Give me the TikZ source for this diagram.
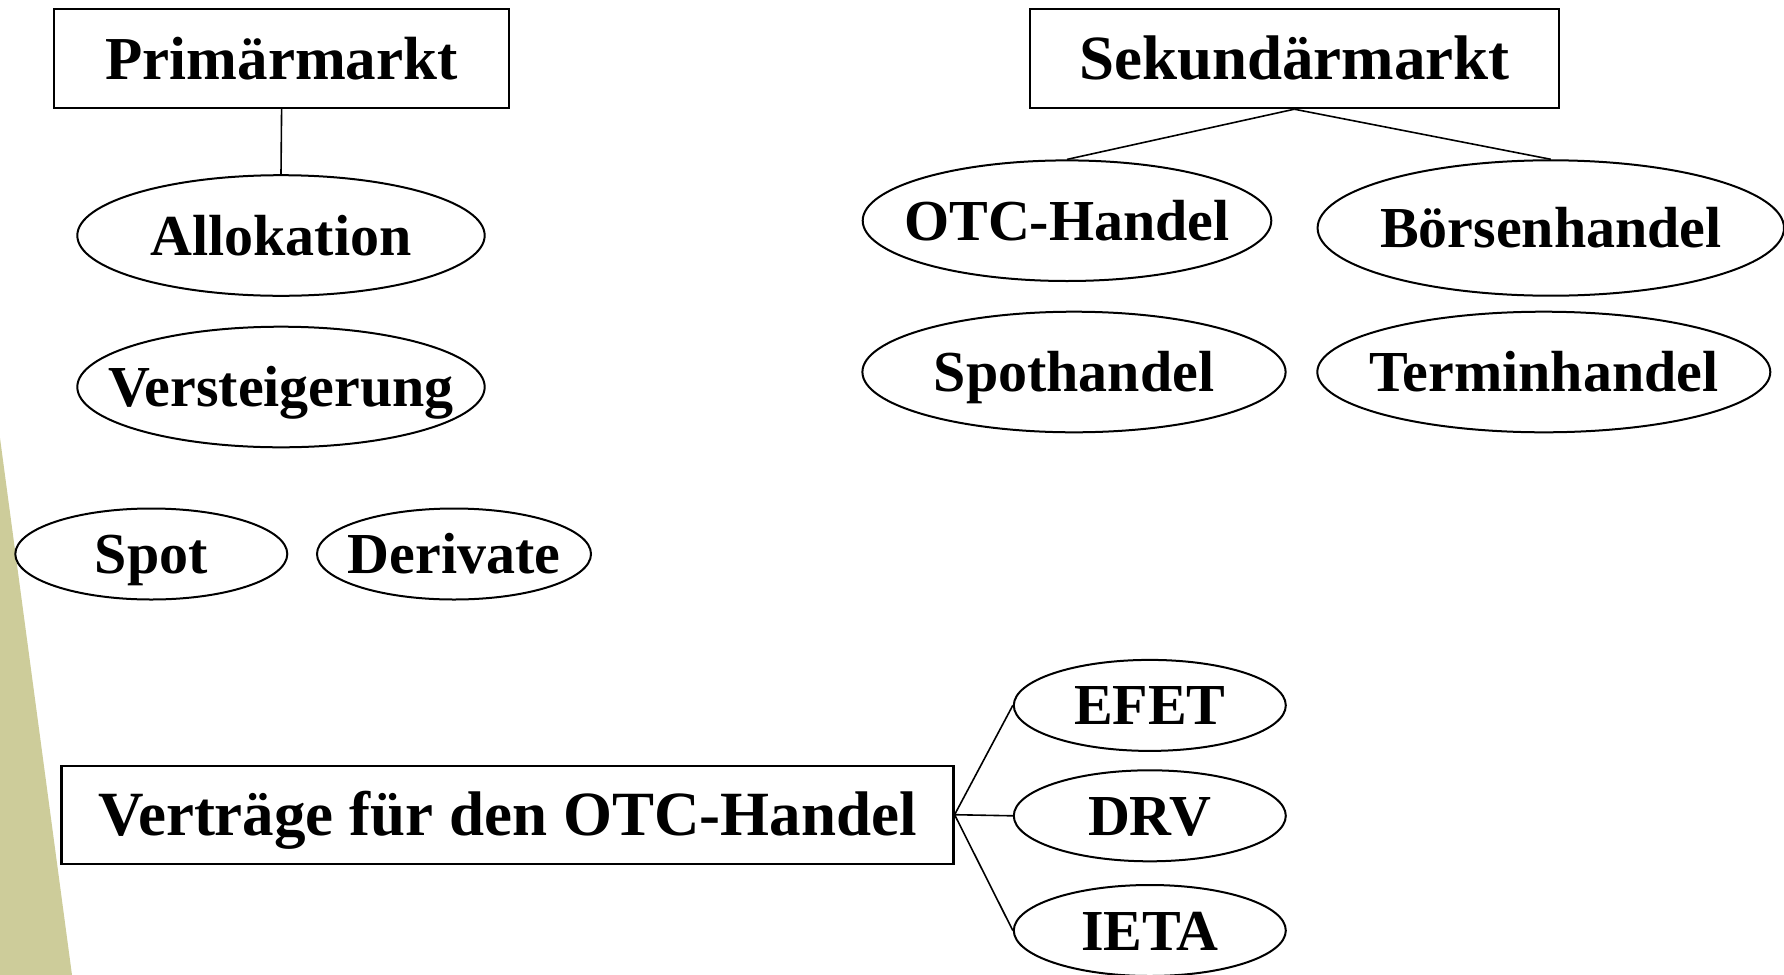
\documentclass[tikz,border=0pt]{standalone}
\usepackage{fontspec}
\setmainfont{Liberation Serif}
\usepackage{tikz}
\usetikzlibrary{shapes.geometric}
\definecolor{sidebar}{RGB}{205,204,154}

\begin{document}
\begin{tikzpicture}[
  x=0.5pt, y=-0.5pt,
  every node/.style={font=\fontsize{29}{34}\selectfont\bfseries, text height=19.5pt, text depth=0pt},
  market/.style={rectangle,draw,line width=1.1pt,inner sep=0pt,minimum height=49.5pt,
    font=\fontsize{30.5}{36}\selectfont\bfseries, text height=20.5pt},
  oval/.style={ellipse,draw,line width=1pt,inner sep=0pt,minimum height=60.3pt},
  small/.style={oval,minimum width=136pt,minimum height=45.5pt},
  link/.style={line width=0.8pt}
]
\useasboundingbox (0,0) rectangle (1784,975);

% ------------------------------------------------------------
% Decorative strip on the left
% ------------------------------------------------------------
\fill[sidebar] (0,438) -- (72,975) -- (0,975) -- cycle;

% ------------------------------------------------------------
% Primary market
% ------------------------------------------------------------
\node[market, minimum width=227.3pt] (prim) at (281.6,58.6) {Primärmarkt};
\node[oval, minimum width=203.7pt] (allok) at (281,235.5) {\makebox[0pt]{Allokation}};
\node[oval, minimum width=203.7pt] (verst) at (281,387) {\makebox[0pt]{Versteigerung}};
\node[small] (spot) at (151.3,554) {\makebox[0pt]{Spot}};
\node[small, minimum width=137pt] (deriv) at (454,554) {\makebox[0pt]{Derivate}};

\draw[link] (prim.south) -- (allok.north);

% ------------------------------------------------------------
% Secondary market
% ------------------------------------------------------------
\node[market, minimum width=264.5pt, font=\fontsize{31.5}{37}\selectfont\bfseries] (sek) at (1294.3,58.6) {Sekundärmarkt};
\node[oval, minimum width=204.3pt] (otc) at (1067,220.7) {\makebox[0pt]{OTC-Handel}};
\node[oval, minimum width=233.2pt, minimum height=67.7pt] (boerse) at (1550.8,228) {\makebox[0pt]{Börsenhandel}};
\node[oval, minimum width=211.6pt] (spoth) at (1074,372) {\makebox[0pt]{Spothandel}};
\node[oval, minimum width=226.5pt] (termin) at (1543.8,372) {\makebox[0pt]{Terminhandel}};

\draw[link] (sek.south) -- (otc.north);
\draw[link] (sek.south) -- (boerse.north);

% ------------------------------------------------------------
% Contracts for OTC trading
% ------------------------------------------------------------
\node[market, minimum width=446pt, minimum height=49pt, font=\fontsize{31.5}{37}\selectfont\bfseries] (vert) at (507.5,814.7) {Verträge für den OTC-Handel};
\node[small] (efet) at (1149.8,705.4) {\makebox[0pt]{EFET}};
\node[small] (drv) at (1149.8,815.8) {\makebox[0pt]{DRV}};
\node[small] (ieta) at (1149.8,930.5) {\makebox[0pt]{IETA}};

\draw[link] (vert.east) -- (efet.west);
\draw[link] (vert.east) -- (drv.west);
\draw[link] (vert.east) -- (ieta.west);

\end{tikzpicture}
\end{document}
